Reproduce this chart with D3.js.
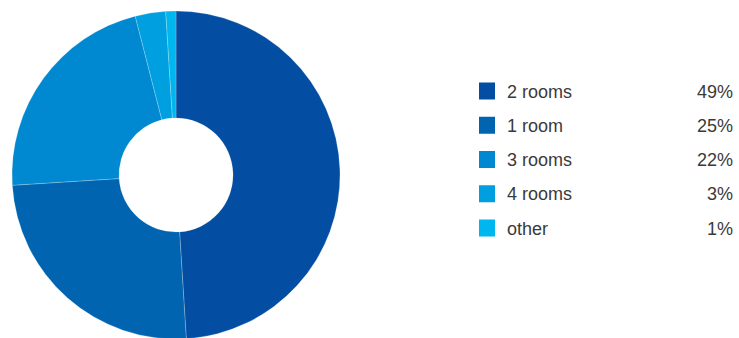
<!DOCTYPE html>
<html>
<head>
<meta charset="utf-8">
<script src="https://cdn.jsdelivr.net/npm/d3@7"></script>
<style>
  html, body { margin: 0; padding: 0; background: #fff; }
  svg { display: block; }
  text { font-family: "Liberation Sans", Arial, Helvetica, sans-serif; }
</style>
</head>
<body>
<svg id="chart" width="739" height="338"></svg>
<script>
// Apartment size distribution
const categories = ["2 rooms", "1 room", "3 rooms", "4 rooms", "other"];
const shares = [49, 25, 22, 3, 1];
const colors = ["#034ea2", "#0064b0", "#0089d0", "#009fe0", "#00b6ef"];

const svg = d3.select("#chart");
const cx = 176, cy = 175, outerR = 164, innerR = 57;

const data = categories.map((c, i) => ({ name: c, value: shares[i], color: colors[i] }));

const pie = d3.pie().value(d => d.value).sort(null);
const arc = d3.arc().innerRadius(innerR).outerRadius(outerR);

svg.append("g")
  .attr("transform", `translate(${cx},${cy})`)
  .selectAll("path")
  .data(pie(data))
  .join("path")
  .attr("d", arc)
  .attr("fill", d => d.data.color)
  .attr("stroke", "rgba(255,255,255,0.35)")
  .attr("stroke-width", 0.6);

// Legend
const rowY = d3.scalePoint().domain(categories).range([91, 228]);
const legend = svg.append("g");
const rows = legend.selectAll("g").data(data).join("g")
  .attr("transform", d => `translate(0,${rowY(d.name)})`);

rows.append("rect")
  .attr("x", 479).attr("y", -8.5)
  .attr("width", 16).attr("height", 17)
  .attr("fill", d => d.color);

rows.append("text")
  .attr("x", 507).attr("y", 6.5)
  .attr("font-size", 18)
  .attr("fill", "#3a3a3a")
  .text(d => d.name);

rows.append("text")
  .attr("x", 733).attr("y", 6.5)
  .attr("text-anchor", "end")
  .attr("font-size", 18)
  .attr("fill", "#3a3a3a")
  .text(d => d.value + "%");
</script>
</body>
</html>
